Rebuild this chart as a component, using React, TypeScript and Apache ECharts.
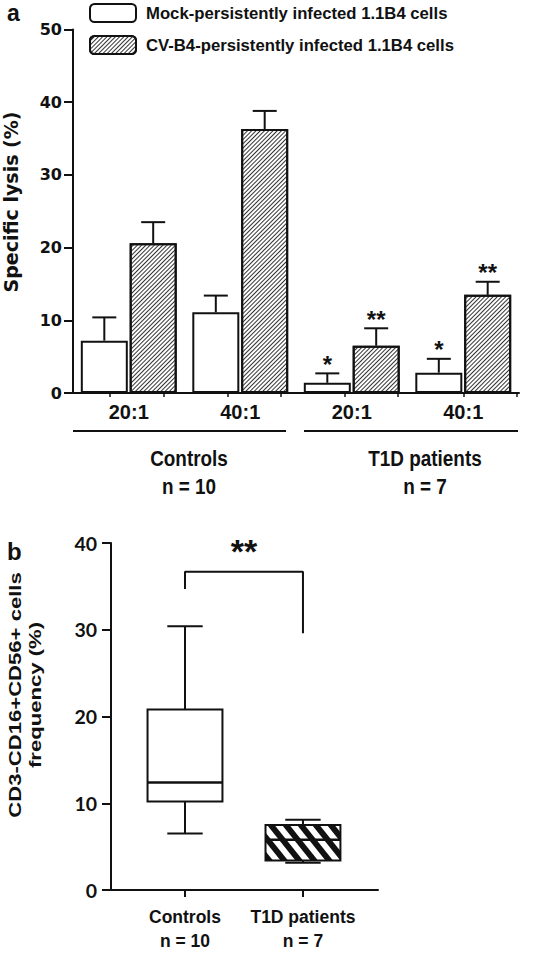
import React, { useEffect, useRef } from "react";
import * as echarts from "echarts";

// ---------- panel a : specific lysis ----------
const ratioLabels = ["20:1", "40:1", "20:1", "40:1"];
const mockName = "Mock-persistently infected 1.1B4 cells";
const cvName = "CV-B4-persistently infected 1.1B4 cells";
const mockLysis = [7.2, 11.1, 1.4, 2.8];
const mockLysisUpper = [10.4, 13.4, 2.7, 4.7];
const cvLysis = [20.6, 36.3, 6.5, 13.5];
const cvLysisUpper = [23.5, 38.8, 8.9, 15.3];
const mockSignificance = ["", "", "*", "*"];
const cvSignificance = ["", "", "**", "**"];
const cohortLabels = ["Controls", "T1D patients"];
const cohortSizes = ["n = 10", "n = 7"];
const ratioTickMarks = [0.33, 0.81, 1.39, 1.86, 2.44, 2.91, 3.5, 3.98];

// ---------- panel b : NK cell frequency ----------
const boxLabels = ["Controls\nn = 10", "T1D patients\nn = 7"];
const boxMin = [6.5, 3.15];
const boxQ1 = [10.2, 3.4];
const boxMedian = [12.4, 5.8];
const boxQ3 = [20.8, 7.5];
const boxMax = [30.4, 8.1];
const bracketX = [0, 0, 1, 1];
const bracketY = [34.7, 36.7, 36.7, 29.6];
const bracketMark = "**";

const INK = "#111";
const SANS = "'Liberation Sans', Arial, sans-serif";
const WIDE = "'DejaVu Sans', sans-serif";
const BAR_W = 47;
const BAR_GAP = 0.04;
const BAR_OFFSET = (BAR_W + BAR_W * BAR_GAP) / 2;

function clipHalf(poly: number[][], f: (p: number[]) => number) {
  const out: number[][] = [];
  for (let j = 0; j < poly.length; j++) {
    const a = poly[j];
    const b = poly[(j + 1) % poly.length];
    const fa = f(a);
    const fb = f(b);
    if (fa >= 0) out.push(a);
    if ((fa >= 0) !== (fb >= 0)) {
      const t = fa / (fa - fb);
      out.push([a[0] + t * (b[0] - a[0]), a[1] + t * (b[1] - a[1])]);
    }
  }
  return out;
}

function stripes(x0: number, y0: number, x1: number, y1: number) {
  const k = 0.8;
  const period = 15;
  const w = 7.5;
  const rect = [
    [x0, y0],
    [x1, y0],
    [x1, y1],
    [x0, y1],
  ];
  const els: any[] = [];
  for (let c = x0 - k * (y1 - y0) - period; c < x1 + period; c += period) {
    let p = clipHalf(rect, (q) => q[0] - k * (q[1] - y0) - c);
    p = clipHalf(p, (q) => c + w - (q[0] - k * (q[1] - y0)));
    if (p.length >= 3) {
      els.push({ type: "polygon", shape: { points: p }, style: { fill: INK } });
    }
  }
  return els;
}

export default function App() {
  const ref = useRef<HTMLDivElement>(null);

  useEffect(() => {
    document.body.style.margin = "0";
    if (!ref.current) return;
    const chart = echarts.init(ref.current, undefined, { renderer: "svg" });

    const errorData: number[][] = [];
    for (let i = 0; i < ratioLabels.length; i++) {
      errorData.push([i, mockLysis[i], mockLysisUpper[i], 0]);
      errorData.push([i, cvLysis[i], cvLysisUpper[i], 1]);
    }
    const stars = [mockSignificance, cvSignificance];

    const boxData = boxLabels.map((_, i) => [i, boxMin[i], boxQ1[i], boxMedian[i], boxQ3[i], boxMax[i]]);

    const lineStyle = { stroke: INK, lineWidth: 2 };
    const cohortText = (i: number, x: number) => ({
      type: "text",
      x,
      y: 472,
      scaleX: 0.86,
      style: {
        text: cohortLabels[i] + "\n" + cohortSizes[i],
        align: "center",
        verticalAlign: "middle",
        lineHeight: 28,
        fontFamily: SANS,
        fontWeight: "bold",
        fontSize: 22,
        fill: INK,
      },
    });

    const option: any = {
      animation: false,
      backgroundColor: "#fff",
      textStyle: { fontFamily: SANS },
      legend: {
        data: [mockName, cvName],
        orient: "vertical",
        left: 89,
        top: 3,
        padding: 0,
        itemWidth: 46,
        itemHeight: 18,
        itemGap: 12,
        selectedMode: false,
        textStyle: { fontFamily: SANS, fontWeight: "bold", fontSize: 16.7, color: INK, padding: [0, 0, 0, 5] },
      },
      grid: [
        { left: 73, right: 34, top: 29.5, bottom: 560 },
        { left: 103, right: 175, top: 543, bottom: 61 },
      ],
      xAxis: [
        {
          type: "category",
          gridIndex: 0,
          data: ratioLabels,
          axisLine: { onZero: false, lineStyle: { color: INK, width: 2 } },
          axisTick: { show: false },
          axisLabel: { color: INK, fontFamily: SANS, fontWeight: "bold", fontSize: 20, margin: 9 },
        },
        {
          type: "value",
          gridIndex: 0,
          min: 0,
          max: 4,
          position: "bottom",
          axisLine: { show: false, onZero: false },
          axisTick: { show: true, customValues: ratioTickMarks, length: 4, lineStyle: { color: INK, width: 1.5 } },
          axisLabel: { show: false },
          splitLine: { show: false },
        },
        {
          type: "value",
          gridIndex: 1,
          min: -0.695,
          max: 1.636,
          axisLine: { onZero: false, lineStyle: { color: INK, width: 2 } },
          axisTick: { show: true, customValues: [0, 1], length: 7, lineStyle: { color: INK, width: 2 } },
          axisLabel: {
            customValues: [0, 1],
            formatter: (v: number) => boxLabels[Math.round(v)],
            color: INK,
            fontFamily: SANS,
            fontWeight: "bold",
            fontSize: 17.5,
            lineHeight: 24,
            margin: 15,
          },
          splitLine: { show: false },
        },
      ],
      yAxis: [
        {
          type: "value",
          gridIndex: 0,
          min: 0,
          max: 50,
          interval: 10,
          axisLine: { show: true, onZero: false, lineStyle: { color: INK, width: 2 } },
          axisTick: { show: true, length: 9, lineStyle: { color: INK, width: 2 } },
          axisLabel: { color: INK, fontFamily: WIDE, fontWeight: "bold", fontSize: 16, margin: 11 },
          splitLine: { show: false },
        },
        {
          type: "value",
          gridIndex: 1,
          min: 0,
          max: 40,
          interval: 10,
          offset: -8,
          axisLine: { show: true, onZero: false, lineStyle: { color: INK, width: 2 } },
          axisTick: { show: true, length: 9, lineStyle: { color: INK, width: 2 } },
          axisLabel: { color: INK, fontFamily: "Lato, sans-serif", fontWeight: "bold", fontSize: 19.5, margin: 14 },
          splitLine: { show: false },
        },
      ],
      series: [
        {
          name: mockName,
          type: "bar",
          xAxisIndex: 0,
          yAxisIndex: 0,
          data: mockLysis,
          barWidth: BAR_W,
          barGap: BAR_GAP * 100 + "%",
          itemStyle: { color: "#fff", borderColor: INK, borderWidth: 2 },
        },
        {
          name: cvName,
          type: "bar",
          xAxisIndex: 0,
          yAxisIndex: 0,
          data: cvLysis,
          barWidth: BAR_W,
          barGap: BAR_GAP * 100 + "%",
          itemStyle: {
            color: "#fff",
            borderColor: INK,
            borderWidth: 2,
            decal: {
              symbol: "rect",
              symbolSize: 1,
              dashArrayX: [1, 0],
              dashArrayY: [1, 2],
              rotation: -Math.PI / 4,
              color: "#333",
            },
          },
        },
        {
          type: "custom",
          xAxisIndex: 0,
          yAxisIndex: 0,
          data: errorData,
          z: 5,
          renderItem: (_p: any, api: any) => {
            const cat = api.value(0);
            const s = api.value(3);
            const base = api.coord([cat, api.value(1)]);
            const tip = api.coord([cat, api.value(2)]);
            const x = base[0] + (s === 0 ? -BAR_OFFSET : BAR_OFFSET);
            const children: any[] = [
              { type: "line", shape: { x1: x, y1: base[1], x2: x, y2: tip[1] }, style: lineStyle },
              { type: "line", shape: { x1: x - 12, y1: tip[1], x2: x + 12, y2: tip[1] }, style: lineStyle },
            ];
            const mark = stars[s][cat];
            if (mark) {
              children.push({
                type: "text",
                x,
                y: tip[1] - 9,
                style: {
                  text: mark,
                  align: "center",
                  verticalAlign: "middle",
                  fontFamily: SANS,
                  fontWeight: "bold",
                  fontSize: 24,
                  fill: INK,
                },
              });
            }
            return { type: "group", children };
          },
        },
        {
          type: "custom",
          xAxisIndex: 2,
          yAxisIndex: 1,
          data: boxData,
          z: 5,
          renderItem: (_p: any, api: any) => {
            const i = api.value(0);
            const unit = api.size([1, 0])[0];
            const cx = api.coord([i, 0])[0];
            const yMin = api.coord([i, api.value(1)])[1];
            const yQ1 = api.coord([i, api.value(2)])[1];
            const yMed = api.coord([i, api.value(3)])[1];
            const yQ3 = api.coord([i, api.value(4)])[1];
            const yMax = api.coord([i, api.value(5)])[1];
            const bw = unit * 0.635;
            const cw = unit * 0.3;
            const x0 = cx - bw / 2;
            const x1 = cx + bw / 2;
            const children: any[] = [
              { type: "line", shape: { x1: cx, y1: yQ3, x2: cx, y2: yMax }, style: lineStyle },
              { type: "line", shape: { x1: cx - cw / 2, y1: yMax, x2: cx + cw / 2, y2: yMax }, style: lineStyle },
              { type: "line", shape: { x1: cx, y1: yQ1, x2: cx, y2: yMin }, style: lineStyle },
              { type: "line", shape: { x1: cx - cw / 2, y1: yMin, x2: cx + cw / 2, y2: yMin }, style: lineStyle },
              { type: "rect", shape: { x: x0, y: yQ3, width: bw, height: yQ1 - yQ3 }, style: { fill: "#fff" } },
            ];
            if (i === 1) children.push(...stripes(x0, yQ3, x1, yQ1));
            children.push(
              { type: "rect", shape: { x: x0, y: yQ3, width: bw, height: yQ1 - yQ3 }, style: { fill: "none", stroke: INK, lineWidth: 2 } },
              { type: "line", shape: { x1: x0, y1: yMed, x2: x1, y2: yMed }, style: { stroke: INK, lineWidth: 2.5 } }
            );
            return { type: "group", children };
          },
        },
        {
          type: "line",
          xAxisIndex: 2,
          yAxisIndex: 1,
          data: bracketX.map((x, i) => [x, bracketY[i]]),
          symbol: "none",
          lineStyle: { color: INK, width: 2 },
          z: 5,
        },
        {
          type: "custom",
          xAxisIndex: 2,
          yAxisIndex: 1,
          data: [[(bracketX[1] + bracketX[2]) / 2, bracketY[1]]],
          z: 5,
          renderItem: (_p: any, api: any) => {
            const pt = api.coord([api.value(0), api.value(1)]);
            return {
              type: "text",
              x: pt[0],
              y: pt[1] - 21,
              style: {
                text: bracketMark,
                align: "center",
                verticalAlign: "middle",
                fontFamily: SANS,
                fontWeight: "bold",
                fontSize: 34,
                fill: INK,
              },
            };
          },
        },
      ],
      graphic: [
        { type: "text", x: 7, y: 1, style: { text: "a", fontFamily: SANS, fontWeight: "bold", fontSize: 23, fill: INK } },
        { type: "text", x: 7, y: 539, style: { text: "b", fontFamily: SANS, fontWeight: "bold", fontSize: 24, fill: INK } },
        {
          type: "text",
          x: 11,
          y: 202,
          rotation: Math.PI / 2,
          style: { text: "Specific lysis (%)", align: "center", verticalAlign: "middle", fontFamily: WIDE, fontWeight: "bold", fontSize: 19, fill: INK },
        },
        {
          type: "text",
          x: 25,
          y: 695,
          rotation: Math.PI / 2,
          scaleX: 1.3,
          style: {
            text: "CD3-CD16+CD56+ cells\nfrequency (%)",
            align: "center",
            verticalAlign: "middle",
            lineHeight: 20,
            fontFamily: SANS,
            fontWeight: "bold",
            fontSize: 17,
            fill: INK,
          },
        },
        { type: "line", shape: { x1: 73, y1: 431, x2: 286, y2: 431 }, style: lineStyle },
        { type: "line", shape: { x1: 304, y1: 431, x2: 518, y2: 431 }, style: lineStyle },
        cohortText(0, 189),
        cohortText(1, 425),
      ],
    };

    chart.setOption(option);
    return () => chart.dispose();
  }, []);

  return <div ref={ref} style={{ width: 553, height: 953 }} />;
}
